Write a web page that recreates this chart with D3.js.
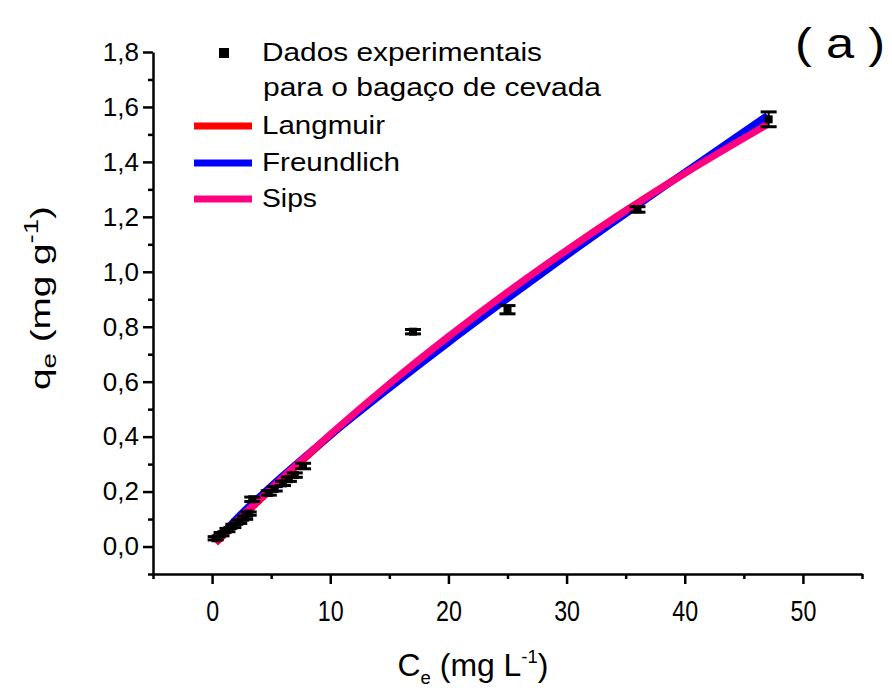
<!DOCTYPE html>
<html>
<head>
<meta charset="utf-8">
<script src="https://cdn.jsdelivr.net/npm/d3@7"></script>
<style>
  body { margin: 0; background: #fff; }
  svg { display: block; }
  text { font-family: "Liberation Sans", Arial, sans-serif; fill: #000; }
</style>
</head>
<body>
<svg id="chart" width="892" height="693"></svg>
<script>
// Experimental isotherm points (Ce in mg/L, qe in mg/g) with standard deviation
const ceExp = [0.3, 0.8, 1.3, 1.8, 2.3, 2.8, 3.1, 3.4, 4.8, 5.3, 6.0, 6.5, 7.0, 7.7, 17.0, 25.0, 36.0, 47.1];
const qeExp = [0.030, 0.045, 0.060, 0.075, 0.090, 0.105, 0.120, 0.172, 0.195, 0.210, 0.230, 0.245, 0.260, 0.293, 0.782, 0.862, 1.227, 1.555];
const qeErr = [0.006, 0.006, 0.006, 0.006, 0.006, 0.006, 0.006, 0.008, 0.008, 0.008, 0.008, 0.008, 0.008, 0.010, 0.008, 0.015, 0.010, 0.027];

// Fitted model curves sampled along Ce
const ceFit = [0.3, 2, 5, 10, 15, 20, 25, 30, 35, 40, 47];
const qeLangmuir = [0.013, 0.085, 0.209, 0.404, 0.587, 0.760, 0.923, 1.077, 1.222, 1.360, 1.541];
const qeFreundlich = [0.019, 0.099, 0.220, 0.404, 0.576, 0.742, 0.902, 1.059, 1.211, 1.362, 1.569];
const qeSips = [0.016, 0.088, 0.212, 0.408, 0.592, 0.764, 0.926, 1.078, 1.222, 1.358, 1.536];

// Axis ticks
const xMajorTicks = [0, 10, 20, 30, 40, 50];
const xMinorTicks = [-5, 5, 15, 25, 35, 45, 55];
const yMajorTicks = [0, 0.2, 0.4, 0.6, 0.8, 1.0, 1.2, 1.4, 1.6, 1.8];
const yMinorTicks = [-0.1, 0.1, 0.3, 0.5, 0.7, 0.9, 1.1, 1.3, 1.5, 1.7];

// Legend entries
const legendSeries = ["Langmuir", "Freundlich", "Sips"];
const legendColors = ["#ff0000", "#0000ff", "#ff0080"];
const legendData = ["Dados experimentais", "para o bagaço de cevada"];
const panelLabel = "( a )";

const svg = d3.select("#chart");

const x = d3.scaleLinear().domain([-5, 55]).range([153, 862]);
const y = d3.scaleLinear().domain([-0.1, 1.8]).range([574, 52]);

// stretch or squeeze a text element to a given width
function fitWidth(sel, w) {
  sel.attr("textLength", w).attr("lengthAdjust", "spacingAndGlyphs");
}

// ---- fitted curves (Langmuir, Freundlich, Sips) ----
const line = d3.line()
  .x((d, i) => x(ceFit[i]))
  .y(d => y(d))
  .curve(d3.curveMonotoneX);

const curves = [qeLangmuir, qeFreundlich, qeSips];
curves.forEach((vals, k) => {
  svg.append("path")
    .attr("d", line(vals))
    .attr("fill", "none")
    .attr("stroke", legendColors[k])
    .attr("stroke-width", 7)
    .attr("stroke-linecap", "butt");
});

// ---- experimental data with error bars ----
const pts = svg.append("g");
const capW = 8;
ceExp.forEach((c, i) => {
  const cx = x(c), q = qeExp[i], e = qeErr[i];
  const g = pts.append("g");
  g.append("line")
    .attr("x1", cx).attr("x2", cx)
    .attr("y1", y(q - e)).attr("y2", y(q + e))
    .attr("stroke", "#000").attr("stroke-width", 2);
  [q - e, q + e].forEach(v => {
    g.append("line")
      .attr("x1", cx - capW).attr("x2", cx + capW)
      .attr("y1", y(v)).attr("y2", y(v))
      .attr("stroke", "#000").attr("stroke-width", 3);
  });
  g.append("rect")
    .attr("x", cx - 4).attr("y", y(q) - 4)
    .attr("width", 8).attr("height", 8)
    .attr("fill", "#000");
});

// ---- axes ----
const fmt = d => d3.format(".1f")(d).replace(".", ",");

const yAxis = svg.append("g").attr("transform", "translate(153,0)")
  .call(d3.axisLeft(y).tickValues(yMajorTicks).tickSize(10).tickSizeOuter(0)
    .tickPadding(4).tickFormat(fmt));
svg.append("g").attr("transform", "translate(153,0)")
  .call(d3.axisLeft(y).tickValues(yMinorTicks).tickSize(5).tickSizeOuter(0).tickFormat(""))
  .select(".domain").remove();

const xAxis = svg.append("g").attr("transform", "translate(0,574)")
  .call(d3.axisBottom(x).tickValues(xMajorTicks).tickSize(10).tickSizeOuter(0)
    .tickPadding(16).tickFormat(d3.format("d")));
svg.append("g").attr("transform", "translate(0,574)")
  .call(d3.axisBottom(x).tickValues(xMinorTicks).tickSize(5).tickSizeOuter(0).tickFormat(""))
  .select(".domain").remove();

svg.selectAll(".domain").attr("stroke", "#000").attr("stroke-width", 2.5);
svg.selectAll(".tick line").attr("stroke", "#000").attr("stroke-width", 2.5);

yAxis.selectAll(".tick text")
  .attr("font-size", 26)
  .attr("font-family", "Liberation Sans, Arial, sans-serif")
  .attr("fill", "#000");

xAxis.selectAll(".tick text")
  .attr("font-size", 29)
  .attr("font-family", "Liberation Sans, Arial, sans-serif")
  .attr("fill", "#000")
  .attr("transform", "scale(0.8,1)");

// ---- axis titles ----
const yTitle = svg.append("text")
  .attr("transform", "translate(50,298) rotate(-90)")
  .attr("text-anchor", "middle")
  .attr("font-size", 28);
yTitle.append("tspan").text("q");
yTitle.append("tspan").attr("font-size", 20).attr("dy", 6).text("e");
yTitle.append("tspan").attr("dy", -6).text(" (mg g");
yTitle.append("tspan").attr("font-size", 20).attr("dy", -12).text("-1");
yTitle.append("tspan").attr("dy", 12).text(")");
fitWidth(yTitle, 184);

const xTitle = svg.append("text")
  .attr("x", 473).attr("y", 676)
  .attr("text-anchor", "middle")
  .attr("font-size", 31);
xTitle.append("tspan").text("C");
xTitle.append("tspan").attr("font-size", 18).attr("dy", 8).text("e");
xTitle.append("tspan").attr("dy", -8).text(" (mg L");
xTitle.append("tspan").attr("font-size", 18).attr("dy", -13).text("-1");
xTitle.append("tspan").attr("dy", 13).text(")");
fitWidth(xTitle, 151);

// ---- panel label ----
const pl = svg.append("text")
  .attr("x", 795).attr("y", 58)
  .attr("font-size", 42)
  .text(panelLabel);
fitWidth(pl, 90);

// ---- legend ----
const lg = svg.append("g");
lg.append("rect").attr("x", 219).attr("y", 48).attr("width", 10).attr("height", 10).attr("fill", "#000");
const t1 = lg.append("text").attr("x", 262).attr("y", 61).attr("font-size", 25).text(legendData[0]);
fitWidth(t1, 280);
const t2 = lg.append("text").attr("x", 263).attr("y", 96).attr("font-size", 25).text(legendData[1]);
fitWidth(t2, 338);

const seriesY = [134, 171, 207];
const seriesW = [123, 138, 55];
legendSeries.forEach((name, i) => {
  lg.append("line")
    .attr("x1", 194).attr("x2", 252)
    .attr("y1", seriesY[i] - 8).attr("y2", seriesY[i] - 8)
    .attr("stroke", legendColors[i]).attr("stroke-width", 7);
  const t = lg.append("text").attr("x", 262).attr("y", seriesY[i]).attr("font-size", 25).text(name);
  fitWidth(t, seriesW[i]);
});
</script>
</body>
</html>
